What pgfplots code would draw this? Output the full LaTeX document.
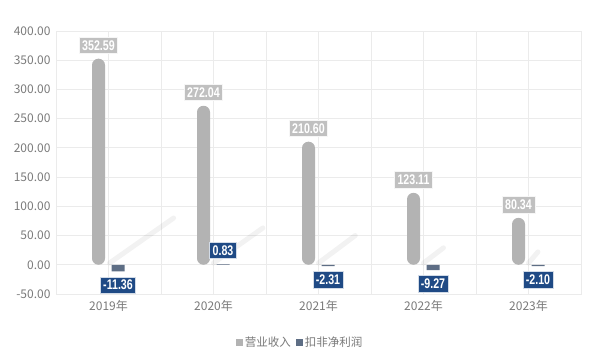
\documentclass[border=0pt]{standalone}
\usepackage{pgfplots}
\pgfplotsset{compat=1.18}
\usepackage{fontspec}
\setmainfont{Noto Sans CJK SC}
\newfontfamily\lblfont{Liberation Sans Bold}[FakeStretch=0.76]
\definecolor{revgray}{HTML}{B3B3B3}
\definecolor{profblue}{HTML}{5E6E85}
\definecolor{lblgray}{HTML}{C0C0C0}
\definecolor{lblblue}{HTML}{1F4A85}
\definecolor{gridc}{HTML}{EBEBEB}
\definecolor{tickc}{HTML}{7A7A7A}
\begin{document}
\begin{tikzpicture}
\begin{axis}[
  scale only axis,
  width=525pt, height=263pt,
  xmin=-0.5, xmax=4.5,
  ymin=-50, ymax=400,
  xtick={0,1,2,3,4},
  xticklabels={2019年,2020年,2021年,2022年,2023年},
  minor x tick num=1,
  ytick={-50,0,50,100,150,200,250,300,350,400},
  /pgf/number format/assume math mode=true,
  yticklabel style={/pgf/number format/fixed, /pgf/number format/fixed zerofill, /pgf/number format/precision=2, xshift=-2pt},
  tick label style={font=\fontsize{12}{13}\selectfont, text=tickc},
  xticklabel style={yshift=-3pt},
  major tick length=0pt, minor tick length=0pt,
  grid=both,
  major grid style={gridc, line width=0.8pt},
  minor grid style={gridc, line width=0.8pt},
  axis line style={gridc, line width=0.8pt},
  legend style={at={(0.465,-0.183)}, anchor=center, draw=none, legend columns=2,
    font=\fontsize{11.5}{13}\selectfont, text=tickc,
    /tikz/every even column/.append style={column sep=3pt}},
  legend cell align=left,
]
% shadows (decorative)
\addplot[forget plot, line width=5pt, color=black, opacity=0.05, line cap=round] coordinates {(0.01,3) (0.62,80)};
\addplot[forget plot, line width=5pt, color=black, opacity=0.05, line cap=round] coordinates {(1.0,3) (1.47,63)};
\addplot[forget plot, line width=5pt, color=black, opacity=0.05, line cap=round] coordinates {(2.0,3) (2.35,50)};
\addplot[forget plot, line width=5pt, color=black, opacity=0.05, line cap=round] coordinates {(3.0,3) (3.19,29)};
\addplot[forget plot, line width=5pt, color=black, opacity=0.05, line cap=round] coordinates {(4.0,3) (4.09,22)};

\addplot[ybar, bar width=13pt, bar shift=-10pt, fill=revgray, draw=none, rounded corners=6.4pt,
  legend image code/.code={\fill[revgray, rounded corners=0pt] (0pt,-3.5pt) rectangle (7pt,3.5pt);},
  point meta=explicit,
  nodes near coords={\pgfmathprintnumber[fixed,fixed zerofill,precision=2]{\pgfplotspointmeta}},
  every node near coord/.append style={rounded corners=0pt, fill=lblgray, draw=white!85!lblgray, line width=0.6pt, text=white,
    font=\lblfont\fontsize{14}{15}\selectfont, inner xsep=3pt, inner ysep=3.3pt, outer ysep=5pt, anchor=south, xshift=-10pt}]
  coordinates {(0,352.59) [352.59] (1,272.04) [272.04] (2,210.60) [210.60] (3,123.11) [123.11] (4,80.34) [80.34]};
\addlegendentry{营业收入}

\addplot[ybar, bar width=13pt, bar shift=9.5pt, fill=profblue, draw=none,
  legend image code/.code={\fill[profblue] (0pt,-3.5pt) rectangle (7pt,3.5pt);},
  point meta=explicit,
  nodes near coords={\pgfmathprintnumber[fixed,fixed zerofill,precision=2]{\pgfplotspointmeta}},
  nodes near coords align=vertical,
  every node near coord/.append style={fill=lblblue, draw=white!80!lblblue, line width=0.6pt, text=white,
    font=\lblfont\fontsize{14}{15}\selectfont, inner xsep=3pt, inner ysep=3.3pt, outer ysep=5.5pt, xshift=9.5pt}]
  coordinates {(0,-11.36) [-11.36] (1,0.83) [0.83] (2,-2.31) [-2.31] (3,-9.27) [-9.27] (4,-2.10) [-2.10]};
\addlegendentry{扣非净利润}
\end{axis}
\path ([xshift=-56pt,yshift=-66pt]current axis.south west) rectangle ([xshift=13pt,yshift=31pt]current axis.north east);
\end{tikzpicture}
\end{document}
